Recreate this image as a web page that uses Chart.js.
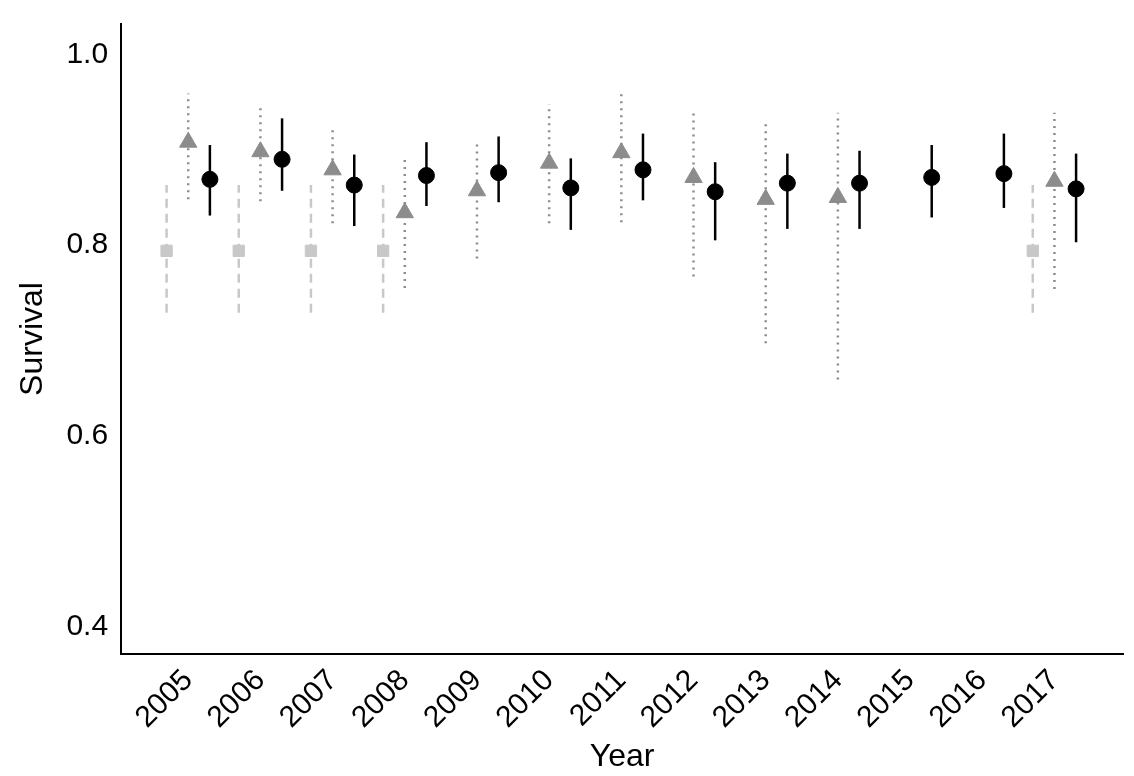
<!DOCTYPE html>
<html>
<head>
<meta charset="utf-8">
<script src="https://cdn.jsdelivr.net/npm/chart.js@4"></script>
<style>
  html, body { margin: 0; padding: 0; background: #fff; }
  #wrap { width: 1134px; height: 776px; }
</style>
</head>
<body>
<div id="wrap"><canvas id="chart"></canvas></div>
<script>
// Tick labels
const years = [2005, 2006, 2007, 2008, 2009, 2010, 2011, 2012, 2013, 2014, 2015, 2016, 2017];
const yTicks = [0.4, 0.6, 0.8, 1.0];

// Grey triangles (centred on year)
const triYears = [2005, 2006, 2007, 2008, 2009, 2010, 2011, 2012, 2013, 2014, 2017];
const triVal = [0.908, 0.898, 0.879, 0.834, 0.857, 0.886, 0.897, 0.871, 0.848, 0.850, 0.867];
const triLo  = [0.848, 0.846, 0.823, 0.755, 0.786, 0.823, 0.824, 0.767, 0.697, 0.659, 0.754];
const triHi  = [0.959, 0.947, 0.924, 0.891, 0.910, 0.948, 0.961, 0.939, 0.930, 0.939, 0.939];

// Black circles (year + 0.3)
const dotYears = [2005, 2006, 2007, 2008, 2009, 2010, 2011, 2012, 2013, 2014, 2015, 2016, 2017];
const dotVal = [0.869, 0.890, 0.863, 0.873, 0.876, 0.860, 0.879, 0.856, 0.865, 0.865, 0.871, 0.875, 0.859];
const dotLo  = [0.831, 0.857, 0.820, 0.841, 0.845, 0.816, 0.847, 0.805, 0.817, 0.817, 0.829, 0.839, 0.803];
const dotHi  = [0.905, 0.933, 0.895, 0.908, 0.914, 0.891, 0.917, 0.887, 0.896, 0.899, 0.905, 0.917, 0.896];

// Light grey squares (year - 0.3)
const sqYears = [2005, 2006, 2007, 2008, 2017];
const sqVal = [0.794, 0.794, 0.794, 0.794, 0.794];
const sqLo  = [0.729, 0.729, 0.729, 0.729, 0.729];
const sqHi  = [0.863, 0.863, 0.863, 0.863, 0.863];

function pts(ys, offset, vals, lo, hi) {
    return ys.map((y, i) => ({ x: y + offset, y: vals[i], lo: lo[i], hi: hi[i] }));
}

// Draw error bars before the points
const errorBars = {
    id: 'errorBars',
    beforeDatasetsDraw(chart) {
        const ctx = chart.ctx;
        const xs = chart.scales.x, ys = chart.scales.y;
        chart.data.datasets.forEach(ds => {
            ctx.save();
            ctx.strokeStyle = ds.barColor;
            ctx.lineWidth = ds.barWidth;
            ctx.setLineDash(ds.barDash);
            ds.data.forEach(p => {
                const px = xs.getPixelForValue(p.x);
                ctx.beginPath();
                ctx.moveTo(px, ys.getPixelForValue(p.lo));
                ctx.lineTo(px, ys.getPixelForValue(p.hi));
                ctx.stroke();
            });
            ctx.restore();
        });
    }
};

const font = { family: 'Arial, "Liberation Sans", sans-serif' };

new Chart(document.getElementById('chart').getContext('2d'), {
    type: 'scatter',
    data: {
        datasets: [
            {
                data: pts(sqYears, -0.3, sqVal, sqLo, sqHi),
                pointStyle: 'rect', pointRadius: 8,
                backgroundColor: '#c8c8c8', borderColor: '#c8c8c8',
                barColor: '#c8c8c8', barWidth: 2.5, barDash: [9, 6]
            },
            {
                data: pts(triYears, 0, triVal, triLo, triHi),
                pointStyle: 'triangle', pointRadius: 10,
                backgroundColor: '#8c8c8c', borderColor: '#8c8c8c',
                barColor: '#8c8c8c', barWidth: 2.5, barDash: [2, 5]
            },
            {
                data: pts(dotYears, 0.3, dotVal, dotLo, dotHi),
                pointStyle: 'circle', pointRadius: 8,
                backgroundColor: '#000', borderColor: '#000',
                barColor: '#000', barWidth: 2.5, barDash: []
            }
        ]
    },
    options: {
        responsive: true,
        maintainAspectRatio: false,
        animation: false,
        layout: { padding: { top: -6, right: 0, left: 6, bottom: 0 } },
        plugins: { legend: { display: false }, tooltip: { enabled: false } },
        scales: {
            x: {
                type: 'linear', min: 2004.07, max: 2017.95,
                afterBuildTicks: s => { s.ticks = years.map(v => ({ value: v })); },
                grid: { display: false, drawTicks: true, tickLength: 7, color: '#000' },
                border: { color: '#000', width: 2 },
                ticks: { color: '#000', font: { ...font, size: 30 }, minRotation: 45, maxRotation: 45,
                         autoSkip: false, padding: 2, callback: v => String(v) },
                title: { display: true, text: 'Year', color: '#000', font: { ...font, size: 32 }, padding: 0 }
            },
            y: {
                min: 0.371, max: 1.032,
                afterBuildTicks: s => { s.ticks = yTicks.map(v => ({ value: v })); },
                grid: { display: false, drawTicks: true, tickLength: 7, color: '#000' },
                border: { color: '#000', width: 2 },
                ticks: { color: '#000', font: { ...font, size: 30 }, padding: 6, callback: v => v.toFixed(1) },
                title: { display: true, text: 'Survival', color: '#000', font: { ...font, size: 32 }, padding: 8 }
            }
        }
    },
    plugins: [errorBars]
});
</script>
</body>
</html>
